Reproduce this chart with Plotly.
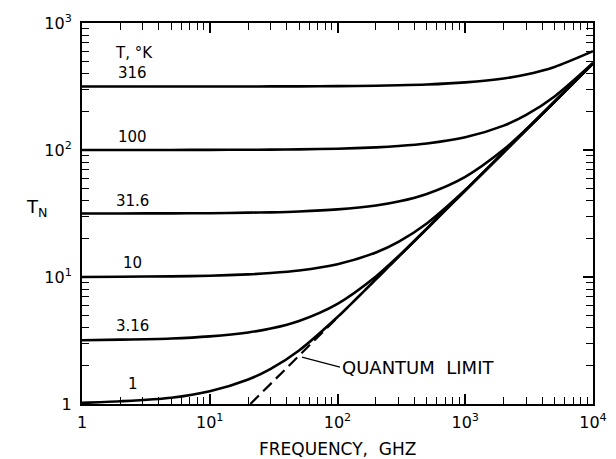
import plotly.graph_objects as go
import math

# ---- data ----
freq_ghz = [1, 2, 5, 10, 20, 30, 50, 100, 200, 300, 500, 1000, 2000, 3000, 5000, 10000]

tn_T1    = [1.02, 1.05, 1.12, 1.26, 1.56, 1.89, 2.64, 4.84, 9.6, 14.4, 24, 48, 96, 144, 240, 480]
tn_T3_16 = [3.18, 3.21, 3.28, 3.41, 3.66, 3.93, 4.51, 6.15, 10.1, 14.55, 24.0, 48, 96, 144, 240, 480]
tn_T10   = [10.0, 10.05, 10.12, 10.24, 10.49, 10.74, 11.25, 12.6, 15.6, 18.9, 26.4, 48.4, 96, 144, 240, 480]
tn_T31_6 = [31.6, 31.65, 31.7, 31.8, 32.1, 32.3, 32.8, 34.1, 36.6, 39.3, 45.1, 61.5, 100.8, 145.5, 240, 480]
tn_T100  = [100, 100, 100.1, 100.2, 100.5, 100.7, 101.2, 102.4, 104.9, 107.4, 112.5, 125.9, 155.6, 188.7, 264, 484]
tn_T316  = [316, 316, 316, 316.2, 316.5, 316.7, 317, 318.4, 320.8, 323.2, 328, 341, 366, 393, 451, 600]

quantum_f  = [20.8, 10000]
quantum_tn = [1, 480]

curve_labels = ["316", "100", "31.6", "10", "3.16", "1"]
curve_label_y = [407, 126, 40, 12.8, 4.1, 1.44]

x_tickvals = [1, 10, 100, 1000, 10000]
x_ticktext = ["1", "10<sup>1</sup>", "10<sup>2</sup>", "10<sup>3</sup>", "10<sup>4</sup>"]
y_tickvals = [1, 10, 100, 1000]
y_ticktext = ["1", "10<sup>1</sup>", "10<sup>2</sup>", "10<sup>3</sup>"]

minor_x = [m * 10 ** d for d in range(0, 4) for m in range(2, 10)]
minor_y = [m * 10 ** d for d in range(0, 3) for m in range(2, 10)]

FONT = "DejaVu Sans"

fig = go.Figure()
for ys in [tn_T316, tn_T100, tn_T31_6, tn_T10, tn_T3_16, tn_T1]:
    fig.add_trace(go.Scatter(x=freq_ghz, y=ys, mode="lines",
                             line=dict(color="black", width=2.6, shape="spline", smoothing=0.8),
                             showlegend=False, hoverinfo="skip"))
fig.add_trace(go.Scatter(x=quantum_f, y=quantum_tn, mode="lines",
                         line=dict(color="black", width=2.2, dash="12px,6px"),
                         showlegend=False, hoverinfo="skip"))

for txt, yv in zip(curve_labels, curve_label_y):
    fig.add_annotation(x=math.log10(2.5), y=math.log10(yv), text=txt, showarrow=False,
                       font=dict(family=FONT, size=15, color="black"))

fig.add_annotation(x=math.log10(2.55), y=math.log10(585), text="T, °K", showarrow=False,
                   font=dict(family=FONT, size=15, color="black"))

fig.add_annotation(x=math.log10(52.7), y=math.log10(2.34), text="QUANTUM  LIMIT", showarrow=True,
                   arrowhead=0, arrowwidth=1.2, arrowcolor="black", ax=38, ay=10,
                   xanchor="left", font=dict(family=FONT, size=18, color="black"))

fig.add_annotation(xref="paper", yref="paper", x=-0.113, y=0.514, text="T<sub>N</sub>",
                   showarrow=False, font=dict(family=FONT, size=18, color="black"))

fig.add_annotation(xref="paper", yref="paper", x=0.5, y=-0.118, yanchor="middle",
                   text="FREQUENCY,  GHZ", showarrow=False,
                   font=dict(family=FONT, size=17, color="black"))

axis_common = dict(type="log", showgrid=False, zeroline=False, showline=True, automargin=False,
                   linecolor="black", linewidth=2, mirror="ticks", ticks="inside",
                   ticklen=10, tickwidth=1.5, tickcolor="black",
                   tickfont=dict(family=FONT, size=16, color="black"))

fig.update_xaxes(range=[0, 4], tickmode="array", tickvals=x_tickvals, ticktext=x_ticktext,
                 ticklabelstandoff=3,
                 minor=dict(tickmode="array", tickvals=minor_x, ticks="inside", ticklen=7,
                            tickwidth=1.3, tickcolor="black"),
                 **axis_common)
fig.update_yaxes(range=[0, 3], tickmode="array", tickvals=y_tickvals, ticktext=y_ticktext,
                 ticklabelstandoff=5,
                 minor=dict(tickmode="array", tickvals=minor_y, ticks="inside", ticklen=7,
                            tickwidth=1.3, tickcolor="black"),
                 **axis_common)

fig.update_layout(width=608, height=451, plot_bgcolor="white", paper_bgcolor="white",
                  margin=dict(l=74, r=23, t=14.5, b=55), font=dict(family=FONT, color="black"))

fig.write_html("out.html")
